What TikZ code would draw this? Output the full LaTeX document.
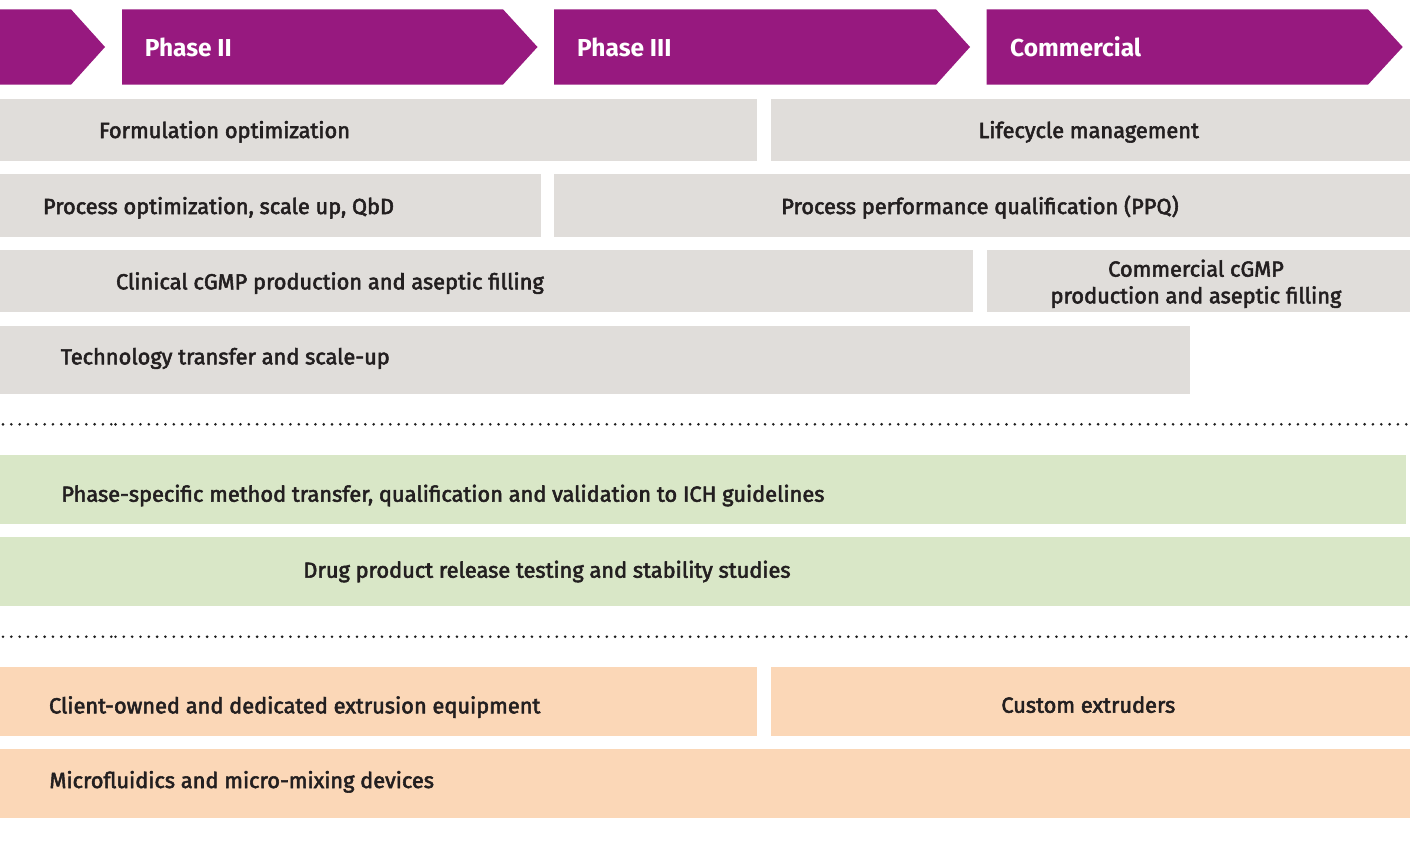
\documentclass[tikz,border=0pt]{standalone}
\usepackage{fontspec}
\setmainfont{Fira Sans}
\newfontfamily\lblfont{Fira Sans}[FakeBold=2.5]
\definecolor{purp}{RGB}{151,25,127}
\definecolor{greybox}{RGB}{224,221,218}
\definecolor{greenbox}{RGB}{217,231,199}
\definecolor{orangebox}{RGB}{251,215,183}
\definecolor{ink}{RGB}{35,31,32}
\definecolor{dotc}{RGB}{30,30,30}
\tikzset{
  box/.style={rectangle, inner sep=0pt, outer sep=0pt, draw=none, anchor=north west},
  greyb/.style={box, fill=greybox},
  greenb/.style={box, fill=greenbox},
  orangeb/.style={box, fill=orangebox},
  lbl/.style={font=\lblfont\fontsize{21.8}{26.7}\selectfont, text=ink, inner sep=0pt, outer sep=0pt},
  phase/.style={font=\bfseries\fontsize{24.5}{28}\selectfont, text=white, inner sep=0pt, anchor=base west},
  chev/.style={fill=purp, draw=none},
  dotline/.style={draw=dotc, line width=2.9pt, line cap=round, dash pattern=on 0pt off 8.33pt}
}
\begin{document}
\begin{tikzpicture}[x=1pt,y=-1pt]
\useasboundingbox (0,0) rectangle (1410,854);
% phase chevrons
\path[chev] (0,9.3) -- (71,9.3) -- (105,47) -- (71,84.7) -- (0,84.7) -- cycle;
\path[chev] (122,9.3) -- (503,9.3) -- (537.5,47) -- (503,84.7) -- (122,84.7) -- cycle;
\path[chev] (554,9.3) -- (936,9.3) -- (970,47) -- (936,84.7) -- (554,84.7) -- cycle;
\path[chev] (986.7,9.3) -- (1368,9.3) -- (1402.7,47) -- (1368,84.7) -- (986.7,84.7) -- cycle;
\node[phase] (p2) at (144.6,56.3) {Phase II};
\node[phase] (p3) at (577,56.3) {Phase III};
\node[phase] (pc) at (1010,56.3) {Commercial};
% grey rows
\node[greyb, minimum width=757pt, minimum height=61.7pt] (fo) at (0,99) {};
\node[greyb, minimum width=639pt, minimum height=61.7pt] (lm) at (771,99) {};
\node[greyb, minimum width=541pt, minimum height=62.4pt] (po) at (0,174.3) {};
\node[greyb, minimum width=856pt, minimum height=62.4pt] (ppq) at (554,174.3) {};
\node[greyb, minimum width=973pt, minimum height=62pt] (cl) at (0,250) {};
\node[greyb, minimum width=423.3pt, minimum height=62pt] (cm) at (986.7,250) {};
\node[greyb, minimum width=1190pt, minimum height=68.3pt] (tt) at (0,325.7) {};
% green rows
\node[greenb, minimum width=1406pt, minimum height=69pt] (ms) at (0,455) {};
\node[greenb, minimum width=1410pt, minimum height=68.7pt] (dp) at (0,537.3) {};
% orange rows
\node[orangeb, minimum width=757pt, minimum height=69pt] (ce) at (0,666.7) {};
\node[orangeb, minimum width=639pt, minimum height=69pt] (cx) at (771,666.7) {};
\node[orangeb, minimum width=1410pt, minimum height=68.7pt] (mf) at (0,749) {};
% dotted separators
\foreach \y in {424.3,636.7}{
  \draw[dotline] (3,\y) -- (115.5,\y);
  \foreach \k in {0,...,5}{
    \draw[dotline] ({115.5+216.5*\k},\y) -- ({115.5+216.5*(\k+1)},\y);
  }
}
% labels
\node[lbl, anchor=base west] (tfo) at (99,138) {Formulation optimization};
\node[lbl, anchor=base] (tlm) at (1088.7,138) {Lifecycle management};
\node[lbl, anchor=base west] (tpo) at (43,214) {Process optimization, scale up, QbD};
\node[lbl, anchor=base] (tppq) at (980,214) {Process performance qualification (PPQ)};
\node[lbl, anchor=base west] (tcl) at (116,289.3) {Clinical cGMP production and aseptic filling};
\node[lbl, anchor=base, align=center] (tcm) at (1196,303.3) {Commercial cGMP\\production and aseptic filling};
\node[lbl, anchor=base west] (ttt) at (60.7,364.3) {Technology transfer and scale-up};
\node[lbl, anchor=base west] (tms) at (61.4,501.7) {Phase-specific method transfer, qualification and validation to ICH guidelines};
\node[lbl, anchor=base] (tdp) at (547,577.7) {Drug product release testing and stability studies};
\node[lbl, anchor=base west] (tce) at (49,713.3) {Client-owned and dedicated extrusion equipment};
\node[lbl, anchor=base] (tcx) at (1088.3,712.7) {Custom extruders};
\node[lbl, anchor=base west] (tmf) at (49.5,788) {Microfluidics and micro-mixing devices};
\end{tikzpicture}
\end{document}
